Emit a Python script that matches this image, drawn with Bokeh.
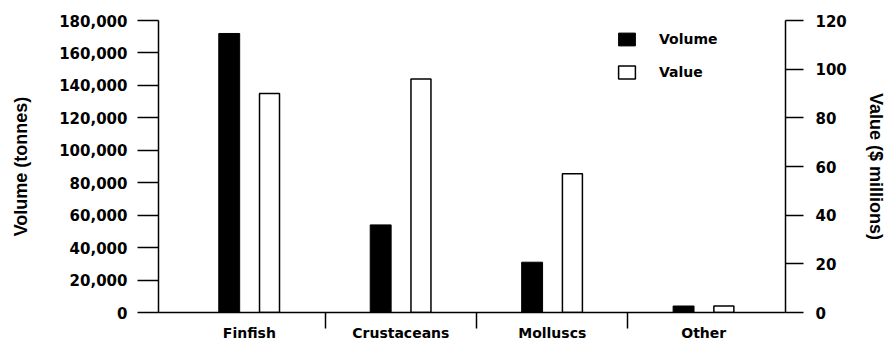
from bokeh.plotting import figure
from bokeh.models import (Range1d, LinearAxis, FixedTicker, NumeralTickFormatter,
                          Legend, LegendItem, ColumnDataSource)
from bokeh.transform import dodge
from bokeh.embed import file_html
from bokeh.resources import INLINE

categories = ["Finfish", "Crustaceans", "Molluscs", "Other"]
volume_tonnes = [172000, 54000, 31000, 4000]
value_millions = [90, 96, 57, 2.7]
volume_ticks = [0, 20000, 40000, 60000, 80000, 100000, 120000, 140000, 160000, 180000]
value_ticks = [0, 20, 40, 60, 80, 100, 120]

xpos = [i + 0.5 for i in range(len(categories))]
boundaries = [i for i in range(1, len(categories))]

src = ColumnDataSource(dict(x=xpos, volume=volume_tonnes, value=value_millions, cat=categories))

p = figure(width=888, height=343, output_backend="svg", toolbar_location=None,
           x_range=Range1d(-0.1, 4.04), y_range=Range1d(0, 180000),
           min_border_left=158, min_border_right=98, min_border_top=20, min_border_bottom=29)
p.outline_line_color = None
p.grid.visible = False
p.extra_y_ranges = {"value": Range1d(0, 120)}

r_vol = p.vbar(x=dodge("x", -0.133, range=p.x_range), top="volume", width=0.138, source=src,
               fill_color="black", line_color="black", line_width=1)
r_val = p.vbar(x=dodge("x", 0.133, range=p.x_range), top="value", width=0.132, source=src,
               y_range_name="value", fill_color="white", line_color="black", line_width=1.5)

tick_font = "DejaVu Sans"

# bottom axis
xa = p.xaxis[0]
xa.ticker = FixedTicker(ticks=xpos, minor_ticks=boundaries)
xa.major_label_overrides = {x: c for x, c in zip(xpos, categories)}
xa.major_tick_out = 0
xa.major_tick_in = 0
xa.minor_tick_out = 16
xa.minor_tick_in = 0
xa.minor_tick_line_color = "black"
xa.minor_tick_line_width = 1.5
xa.major_label_standoff = -4
xa.major_label_text_font = tick_font
xa.major_label_text_font_style = "bold"
xa.major_label_text_font_size = "14px"
xa.major_label_text_color = "black"
xa.axis_line_color = "black"
xa.axis_line_width = 1.5

# left axis
ya = p.yaxis[0]
ya.ticker = FixedTicker(ticks=volume_ticks)
ya.formatter = NumeralTickFormatter(format="0,0")
ya.major_tick_out = 21
ya.major_tick_in = 0
ya.minor_tick_out = 0
ya.minor_tick_in = 0
ya.major_tick_line_width = 1.5
ya.major_tick_line_color = "black"
ya.major_label_standoff = 10
ya.major_label_text_font = tick_font
ya.major_label_text_font_style = "bold"
ya.major_label_text_font_size = "15px"
ya.major_label_text_color = "black"
ya.axis_line_color = "black"
ya.axis_line_width = 1.5
ya.axis_label = "Volume (tonnes)"
ya.axis_label_text_font = "Liberation Sans"
ya.axis_label_text_font_style = "bold"
ya.axis_label_text_font_size = "18px"
ya.axis_label_text_color = "black"
ya.axis_label_standoff = 25

# right axis
ra = LinearAxis(y_range_name="value", ticker=FixedTicker(ticks=value_ticks))
ra.major_tick_out = 18
ra.major_tick_in = 0
ra.minor_tick_out = 0
ra.minor_tick_in = 0
ra.major_tick_line_width = 1.5
ra.major_tick_line_color = "black"
ra.major_label_standoff = 12
ra.major_label_text_font = tick_font
ra.major_label_text_font_style = "bold"
ra.major_label_text_font_size = "15px"
ra.major_label_text_color = "black"
ra.axis_line_color = "black"
ra.axis_line_width = 1.5
ra.axis_label = "Value ($ millions)"
ra.axis_label_text_font = "Liberation Sans"
ra.axis_label_text_font_style = "bold"
ra.axis_label_text_font_size = "18px"
ra.axis_label_text_color = "black"
ra.axis_label_standoff = 16
p.add_layout(ra, "right")

legend = Legend(items=[LegendItem(label="Volume", renderers=[r_vol]),
                       LegendItem(label="Value", renderers=[r_val])],
                location=(458, 232), glyph_width=21, glyph_height=16, label_standoff=22,
                spacing=17, padding=0, margin=0, border_line_alpha=0, background_fill_alpha=0,
                label_text_font=tick_font, label_text_font_style="bold",
                label_text_font_size="14px", label_text_color="black")
p.add_layout(legend)

open("out.html", "w").write(file_html(p, INLINE))
